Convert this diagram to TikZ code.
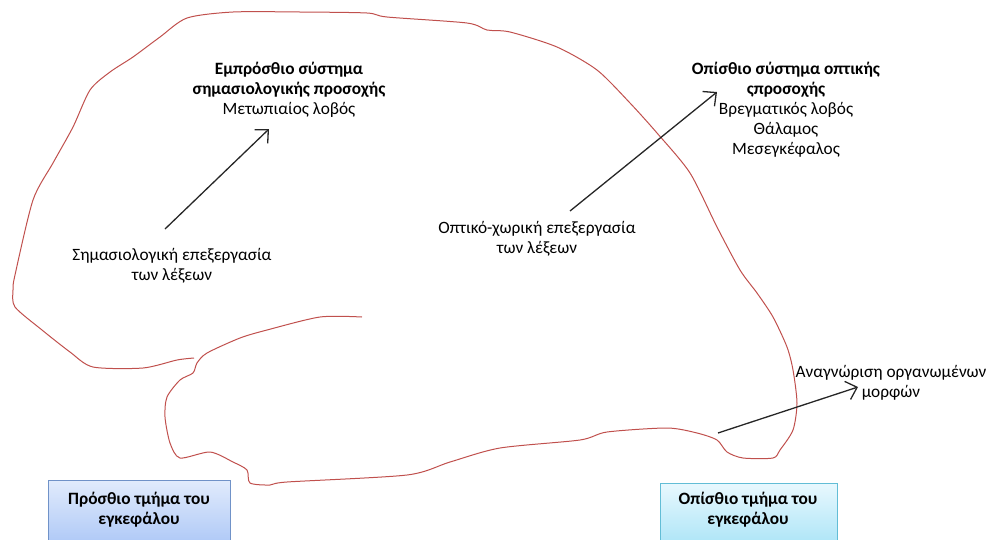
\documentclass[tikz,border=0pt]{standalone}
\usepackage{fontspec}
\setmainfont{Carlito}
\usetikzlibrary{arrows.meta}
\definecolor{outline}{HTML}{C0504D}
\definecolor{frontTop}{HTML}{E1EBFC}
\definecolor{frontBot}{HTML}{A9C5F6}
\definecolor{frontEdge}{HTML}{7092C8}
\definecolor{backTop}{HTML}{E8F8FE}
\definecolor{backBot}{HTML}{A4E2F6}
\definecolor{backEdge}{HTML}{62BDD6}
\begin{document}
\begin{tikzpicture}[x=1pt,y=-1pt,
  lbl/.style={align=center,font=\fontsize{17.3}{20}\selectfont,inner sep=0pt},
  pointer/.style={draw=black!85,line width=1.3pt,-{Straight Barb[length=10pt,width=19pt,line width=1.3pt]}},
  region/.style={line width=0.8pt,minimum height=70pt,anchor=north west,inner sep=0pt}
]
\useasboundingbox (0,0) rectangle (991,539);

% brain outline
\draw[outline,line width=1pt,line join=round] plot[smooth,tension=0.45] coordinates {
 (362,317) (320,317) (267,330) (240,338) (207,353) (197,363) (193,373) (180,380)
 (167,397) (165,417) (170,443) (180,458) (210,452) (233,462) (247,470) (250,483)
 (270,485) (287,482) (407,475) (450,462) (500,448) (580,440) (607,432) (667,428)
 (697,433) (717,440) (727,452) (743,458) (773,458) (780,450) (793,430) (797,403)
 (793,370) (787,347) (773,317) (757,293) (740,270) (717,227) (690,173) (657,133)
 (630,103) (597,70) (557,47) (510,32) (487,30) (467,23) (387,17) (367,13)
 (300,12) (233,12) (187,18) (160,37) (133,57) (110,72) (90,90) (73,127)
 (53,163) (33,200) (15,275) (13,290) (15,307) (42,330) (70,352) (93,367)
 (143,368) (177,360) (194,358)};

% labels
\node[lbl] (frontsys) at (289,90) {\textbf{Εμπρόσθιο σύστημα}\\\textbf{σημασιολογικής προσοχής}\\Μετωπιαίος λοβός};
\node[lbl] (backsys) at (786,110) {\textbf{Οπίσθιο σύστημα οπτικής}\\\textbf{ςπροσοχής}\\Βρεγματικός λοβός\\Θάλαμος\\Μεσεγκέφαλος};
\node[lbl] (semantic) at (172,266) {Σημασιολογική επεξεργασία\\των λέξεων};
\node[lbl] (visual) at (537,239) {Οπτικό-χωρική επεξεργασία\\των λέξεων};
\node[lbl] (shapes) at (891,383) {Αναγνώριση οργανωμένων\\μορφών};

% arrow ends
\coordinate (s1) at (165,229); \coordinate (e1) at (269,129);
\coordinate (s2) at (570,211); \coordinate (e2) at (717,92);
\coordinate (s3) at (718,433); \coordinate (e3) at (858,387);
\draw[pointer] (s1) -- (e1);
\draw[pointer] (s2) -- (e2);
\draw[pointer] (s3) -- (e3);

% region boxes, running off the lower edge
\node[region,minimum width=182pt,draw=frontEdge,top color=frontTop,bottom color=frontBot] (front) at (48,480) {};
\node[lbl,font=\bfseries\fontsize{17.3}{20}\selectfont] (fronttext) at (139,510) {Πρόσθιο τμήμα του\\εγκεφάλου};
\node[region,minimum width=177pt,draw=backEdge,top color=backTop,bottom color=backBot] (back) at (660,483) {};
\node[lbl,font=\bfseries\fontsize{17.3}{20}\selectfont] (backtext) at (748,510) {Οπίσθιο τμήμα του\\εγκεφάλου};
\end{tikzpicture}
\end{document}
